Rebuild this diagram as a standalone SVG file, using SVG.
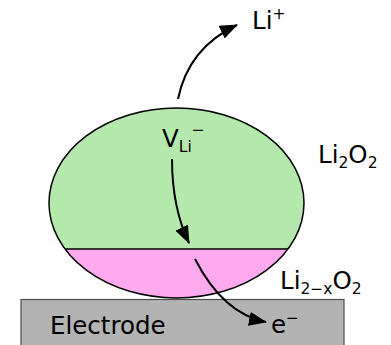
<svg xmlns="http://www.w3.org/2000/svg" width="391" height="345" viewBox="0 0 391 345">
<defs>
<style>
text{font-family:"DejaVu Sans","Liberation Sans",sans-serif;font-size:24.5px;fill:#000}
.sub{font-size:15.5px}
.conn path{fill:none;stroke:#000;stroke-width:2}
</style>
<marker id="ah" viewBox="0 0 18 14" refX="17" refY="7" markerWidth="18" markerHeight="14" markerUnits="userSpaceOnUse" orient="auto">
<path d="M0,0 L18,7 L0,14 Z" fill="#000"/>
</marker>
</defs>
<rect width="391" height="345" fill="#fff"/>
<g id="electrode">
<rect x="21" y="299.5" width="323" height="50" fill="#b3b3b3" stroke="#4d4d4d" stroke-width="1.2"/>
<text x="50" y="334">Electrode</text>
</g>
<g id="particle">
<ellipse cx="176.5" cy="203" rx="127.5" ry="95" fill="#b4e8ad"/>
<path d="M65,249 H288 A127.5,95 0 0 1 65,249 Z" fill="#ffaaee"/>
<ellipse cx="176.5" cy="203" rx="127.5" ry="95" fill="none" stroke="#000" stroke-width="1.5"/>
<line x1="65" y1="249" x2="288" y2="249" stroke="#000" stroke-width="1.5"/>
</g>
<g id="label-li2o2"><text x="318" y="163">Li<tspan class="sub" dy="5">2</tspan><tspan dy="-5">O</tspan><tspan class="sub" dy="5">2</tspan></text></g>
<g id="label-li2xo2"><text x="280" y="289">Li<tspan class="sub" dy="5">2−x</tspan><tspan dy="-5">O</tspan><tspan class="sub" dy="5">2</tspan></text></g>
<g id="label-vli"><text x="162" y="147">V<tspan class="sub" dy="5">Li</tspan><tspan class="sub" dy="-17">−</tspan></text></g>
<g id="label-liplus"><text x="252" y="29">Li<tspan class="sub" dy="-10">+</tspan></text></g>
<g id="label-e"><text x="271" y="333">e<tspan class="sub" dy="-10">−</tspan></text></g>
<g class="conn" id="connectors">
<path d="M178,99 C185,65 205,40 237,25" marker-end="url(#ah)"/>
<path d="M172,159 C172,195 178,220 189,243" marker-end="url(#ah)"/>
<path d="M195,259 C212,292 235,316 266,322" marker-end="url(#ah)"/>
</g>
</svg>
